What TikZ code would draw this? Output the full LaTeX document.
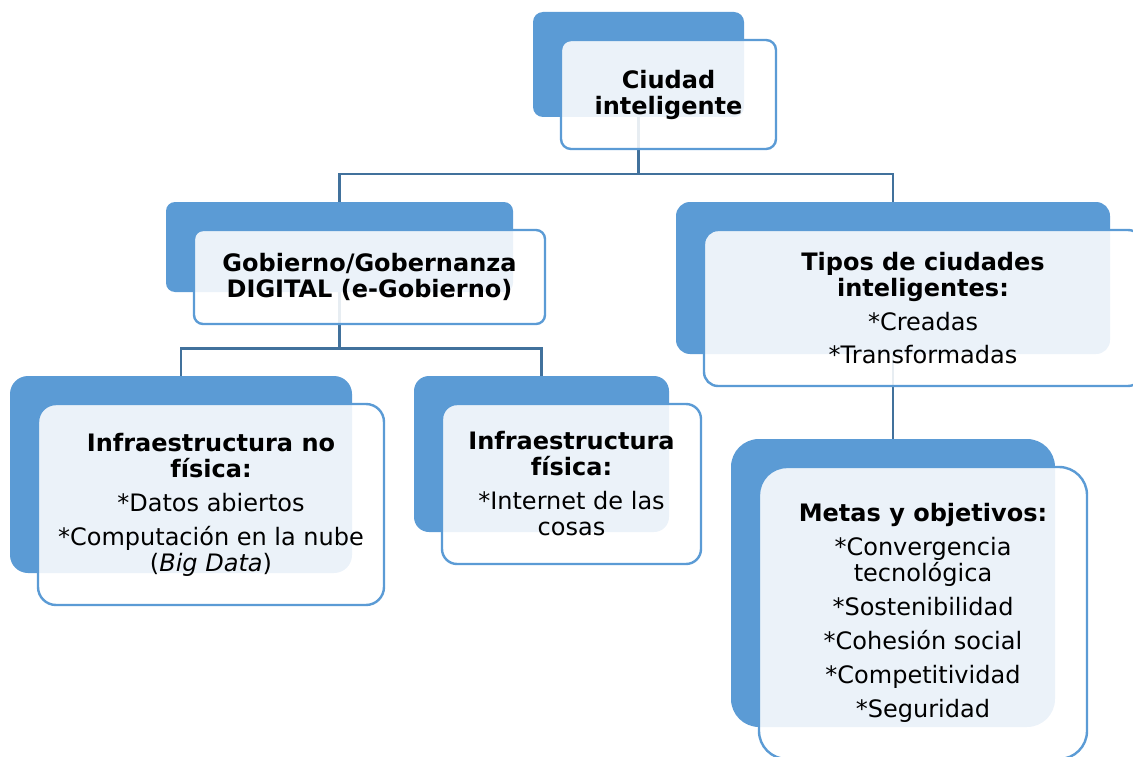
\documentclass[tikz,border=0pt]{standalone}
\usepackage{fontspec}
\setmainfont{DejaVu Sans}
\usetikzlibrary{backgrounds}
\definecolor{boxblue}{RGB}{91,155,213}
\definecolor{linkblue}{RGB}{65,113,156}
\tikzset{
	backbox/.style={draw=none,fill=boxblue,rounded corners=#1,inner sep=0pt},
	frontbox/.style={draw=boxblue,line width=2.4pt,fill=white,fill opacity=.88,text opacity=1,
		rounded corners=#1,inner sep=0pt,align=center,font=\fontsize{24}{26}\selectfont},
	link/.style={draw,linkblue,line width=2.6pt}
}

\begin{document}
\begin{tikzpicture}[x=1pt,y=-1pt]
\useasboundingbox (0,0) rectangle (1133,757);
\clip (0,0) rectangle (1133,757);

% back boxes
\node[backbox=10pt,minimum width=211pt,minimum height=105pt] (ciudad) at (638.5,64.5) {};
\node[backbox=9pt,minimum width=347pt,minimum height=90pt] (gobierno) at (339.5,247) {};
\node[backbox=14pt,minimum width=434pt,minimum height=152pt] (tipos) at (893,278) {};
\node[backbox=18pt,minimum width=342pt,minimum height=197pt] (nofisica) at (181,474.5) {};
\node[backbox=15pt,minimum width=255pt,minimum height=156pt] (fisica) at (541.5,454) {};
\node[backbox=28pt,minimum width=324pt,minimum height=288pt] (metas) at (893,583) {};

% front boxes
\node[frontbox=10pt,minimum width=215pt,minimum height=109pt] (ciudad-f) at ([shift={(30,30)}]ciudad.center)
	{\textbf{Ciudad}\\\textbf{inteligente}};
\node[frontbox=9pt,minimum width=351pt,minimum height=94pt] (gobierno-f) at ([shift={(30,30)}]gobierno.center)
	{\textbf{Gobierno/Gobernanza}\\\textbf{DIGITAL (e-Gobierno)}};
\node[frontbox=14pt,minimum width=438pt,minimum height=156pt] (tipos-f) at ([shift={(30,30)}]tipos.center)
	{\textbf{Tipos de ciudades}\\\textbf{inteligentes:}\\[8pt]*Creadas\\[7pt]*Transformadas};
\node[frontbox=18pt,minimum width=346pt,minimum height=201pt] (nofisica-f) at ([shift={(30,30)}]nofisica.center)
	{\textbf{Infraestructura no}\\\textbf{física:}\\[8pt]*Datos abiertos\\[8pt]*Computación en la nube\\(\textit{Big Data})};
\node[frontbox=15pt,minimum width=259pt,minimum height=160pt] (fisica-f) at ([shift={(30,30)}]fisica.center)
	{\textbf{Infraestructura}\\\textbf{física:}\\[8pt]*Internet de las\\cosas};
\node[frontbox=28pt,minimum width=328pt,minimum height=292pt] (metas-f) at ([shift={(30,30)}]metas.center)
	{\textbf{Metas y objetivos:}\\[8pt]*Convergencia\\tecnológica\\[8pt]*Sostenibilidad\\[8pt]*Cohesión social\\[8pt]*Competitividad\\[8pt]*Seguridad};

% connectors
\begin{scope}[on background layer]
\draw[link] (ciudad.south) -- ++(0,57) -| (gobierno.north);
\draw[link] (ciudad.south) -- ++(0,57) -| (tipos.north);
\draw[link] (gobierno.south) -- ++(0,56) -| (nofisica.north);
\draw[link] (gobierno.south) -- ++(0,56) -| (fisica.north);
\draw[link] (tipos.south) -- (metas.north);
\end{scope}

\end{tikzpicture}
\end{document}
